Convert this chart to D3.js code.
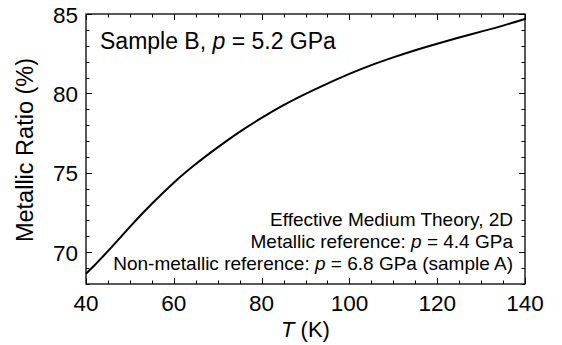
<!DOCTYPE html>
<html>
<head>
<meta charset="utf-8">
<title>Metallic Ratio</title>
<script src="https://cdn.jsdelivr.net/npm/d3@7"></script>
<style>
  body { margin: 0; background: #fff; }
  text { font-family: "Liberation Sans", Arial, sans-serif; fill: #000; }
</style>
</head>
<body>
<div id="chart"></div>
<script>
  // temperature (K) and metallic ratio (%)
  var temps = [40, 42, 44, 46, 48, 50, 55, 60, 65, 70, 75, 80, 85, 90, 95, 100, 105, 110, 115, 120, 125, 130, 135, 140];
  var ratio = [68.65, 69.2, 69.78, 70.37, 70.98, 71.6, 73.05, 74.38, 75.55, 76.6, 77.58, 78.46, 79.26, 79.97, 80.62, 81.23, 81.78, 82.27, 82.72, 83.13, 83.52, 83.89, 84.27, 84.68];
  var xTicks = [40, 60, 80, 100, 120, 140];
  var yTicks = [70, 75, 80, 85];
  var notes = ["Effective Medium Theory, 2D", "Metallic reference: |p| = 4.4 GPa", "Non-metallic reference: |p| = 6.8 GPa (sample A)"];

  var width = 562, height = 345;
  var m = {left: 86, right: 37, top: 14, bottom: 61};
  var w = width - m.left - m.right, h = height - m.top - m.bottom;

  var svg = d3.select("#chart").append("svg")
    .attr("width", width)
    .attr("height", height);
  var g = svg.append("g").attr("transform", "translate(" + m.left + "," + m.top + ")");

  var x = d3.scaleLinear().domain([40, 140]).range([0, w]);
  var y = d3.scaleLinear().domain([68, 85]).range([h, 0]);

  var xMinor = d3.range(40, 141, 5), yMinor = d3.range(68, 85.1, 1);
  function len(major, d) { return major.indexOf(d) >= 0 ? 6 : 3.5; }

  // inward ticks on all four sides, drawn as one path
  var p = d3.path();
  xMinor.forEach(function(d) {
    var xx = Math.round(x(d)) + 0.5, l = len(xTicks, d);
    p.moveTo(xx, h); p.lineTo(xx, h - l);
    p.moveTo(xx, 0); p.lineTo(xx, l);
  });
  yMinor.forEach(function(d) {
    var yy = Math.round(y(d)) + 0.5, l = len(yTicks, d);
    p.moveTo(0, yy); p.lineTo(l, yy);
    p.moveTo(w, yy); p.lineTo(w - l, yy);
  });
  g.append("path").attr("d", p.toString())
    .attr("fill", "none").attr("stroke", "#000").attr("stroke-width", 1);

  g.append("rect").attr("width", w).attr("height", h)
    .attr("fill", "none").attr("stroke", "#000").attr("stroke-width", 1.3);

  // tick labels
  g.selectAll(".xlab").data(xTicks).enter().append("text")
    .attr("x", function(d) { return x(d); }).attr("y", h + 27)
    .attr("text-anchor", "middle").attr("font-size", 22.5).text(function(d) { return d; });
  g.selectAll(".ylab").data(yTicks).enter().append("text")
    .attr("x", -8).attr("y", function(d) { return y(d) + 8.5; })
    .attr("text-anchor", "end").attr("font-size", 22.5).text(function(d) { return d; });

  // axis titles
  var xt = g.append("text").attr("x", w / 2).attr("y", h + 53).attr("text-anchor", "middle").attr("font-size", 22);
  xt.append("tspan").attr("font-style", "italic").text("T");
  xt.append("tspan").text(" (K)");
  g.append("text").attr("transform", "translate(-53," + (h / 2 + 1) + ") rotate(-90)")
    .attr("text-anchor", "middle").attr("font-size", 23.5).text("Metallic Ratio (%)");

  // curve
  var line = d3.line().x(function(d) { return x(d[0]); }).y(function(d) { return y(d[1]); }).curve(d3.curveMonotoneX);
  g.append("path").datum(d3.zip(temps, ratio)).attr("d", line)
    .attr("fill", "none").attr("stroke", "#000").attr("stroke-width", 2);

  // annotations; |p| marks italic p
  function rich(sel, str) {
    str.split("|").forEach(function(s, i) {
      sel.append("tspan").attr("font-style", i % 2 ? "italic" : null).text(s);
    });
  }
  rich(g.append("text").attr("x", 14).attr("y", 35).attr("font-size", 23), "Sample B, |p| = 5.2 GPa");
  notes.forEach(function(n, i) {
    rich(g.append("text").attr("x", w - 12).attr("y", 212 + i * 22).attr("text-anchor", "end").attr("font-size", 19), n);
  });
</script>
</body>
</html>
